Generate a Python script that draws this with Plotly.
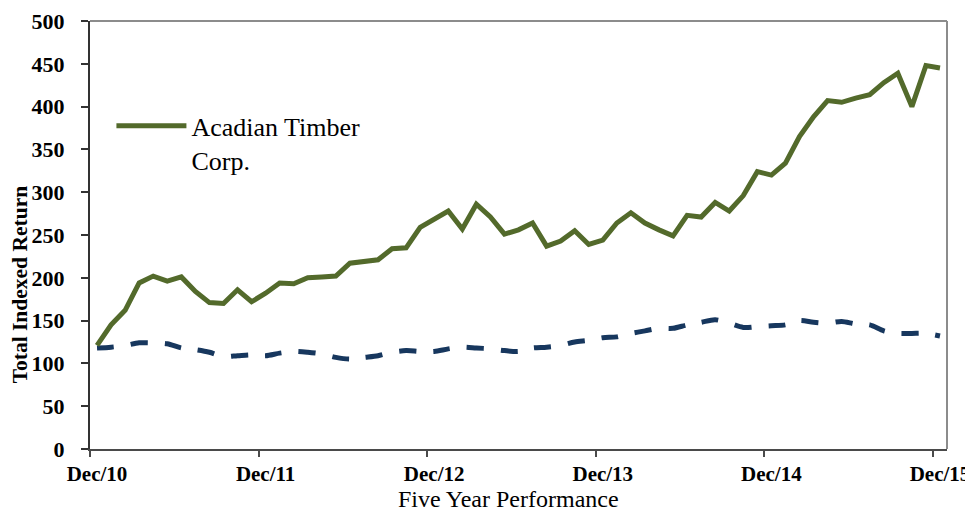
import plotly.graph_objects as go

# Monthly observations, Dec/10 .. Dec/15 (61 points)
months = list(range(61))
tick_positions = [0, 12, 24, 36, 48, 60]
tick_labels = ["Dec/10", "Dec/11", "Dec/12", "Dec/13", "Dec/14", "Dec/15"]

acadian = [121, 145, 162, 194, 202, 196, 201, 184, 171, 170, 186, 172,
           182, 194, 193, 200, 201, 202, 217, 219, 221, 234, 235, 259,
           269, 278, 257, 286, 271, 251, 256, 264, 237, 243, 255, 239,
           244, 264, 276, 264, 256, 249, 273, 271, 288, 278, 296, 324,
           320, 334, 365, 388, 407, 405, 410, 414, 428, 439, 400, 448,
           445]

index_series = [118, 119, 121, 124, 124, 123, 118, 116, 113, 108, 109, 110,
                109, 112, 114, 113, 111, 107, 105, 107, 109, 113, 115, 114,
                114, 117, 119, 118, 117, 115, 114, 118, 119, 121, 125, 127,
                130, 131, 135, 138, 141, 141, 145, 148, 151, 147, 142, 143,
                144, 145, 150, 148, 147, 149, 146, 145, 138, 135, 135, 135,
                132]

y_ticks = list(range(0, 501, 50))

SERIF = "Liberation Serif, Times New Roman, serif"

fig = go.Figure()
fig.add_trace(go.Scatter(
    x=months, y=index_series, mode="lines", name="Index",
    showlegend=False,
    line=dict(color="#17375E", width=5, dash="17px,17px", shape="spline", smoothing=0.8),
))
fig.add_trace(go.Scatter(
    x=months, y=acadian, mode="lines", name="Acadian Timber<br>Corp.",
    line=dict(color="#536A2B", width=5),
))

# page body has an 8px margin, so the figure is 8px smaller than the window
fig.update_layout(
    width=965, height=505,
    margin=dict(l=82, r=26, t=13, b=64, autoexpand=False),
    paper_bgcolor="white", plot_bgcolor="white",
    font=dict(family=SERIF, color="black"),
    showlegend=True,
    legend=dict(
        x=0.025, y=0.81, xanchor="left", yanchor="top",
        font=dict(family=SERIF, size=26, color="black"),
        bgcolor="rgba(0,0,0,0)", itemwidth=70, valign="top",
        tracegroupgap=0,
    ),
    xaxis=dict(
        range=[-0.5, 60.5], automargin=False,
        tickmode="array", tickvals=tick_positions, ticktext=tick_labels,
        ticks="", showgrid=False, zeroline=False,
        showline=True, linecolor="#4a4a4a", linewidth=2,
        tickfont=dict(family=SERIF, size=21, color="black", weight="bold"),
        ticklabelstandoff=5,
        minor=dict(tick0=-0.5, dtick=12, ticks="outside", ticklen=6,
                   tickcolor="#4a4a4a", tickwidth=1.5, showgrid=False),
    ),
    yaxis=dict(
        range=[0, 500], tickmode="array", tickvals=y_ticks, automargin=False,
        ticks="outside", ticklen=7, tickcolor="#333333", tickwidth=1.5,
        showgrid=False, zeroline=False,
        showline=True, linecolor="#333333", linewidth=2,
        tickfont=dict(family=SERIF, size=22, color="black", weight="bold"),
        ticklabelstandoff=12,
    ),
    shapes=[
        dict(type="line", xref="paper", yref="paper", x0=0, x1=1, y0=1, y1=1,
             line=dict(color="#8c8c8c", width=2)),
        dict(type="line", xref="paper", yref="paper", x0=1, x1=1, y0=0, y1=1,
             line=dict(color="#8c8c8c", width=2)),
    ],
    annotations=[
        dict(text="Total Indexed Return", xref="paper", yref="paper",
             x=-0.082, y=0.384, xanchor="center", yanchor="middle",
             textangle=-90, showarrow=False,
             font=dict(family=SERIF, size=21.5, color="black", weight="bold")),
        dict(text="Five Year Performance", xref="paper", yref="paper",
             x=0.488, y=-0.117, xanchor="center", yanchor="middle",
             showarrow=False,
             font=dict(family=SERIF, size=24, color="black")),
    ],
)

fig.write_html("out.html")
